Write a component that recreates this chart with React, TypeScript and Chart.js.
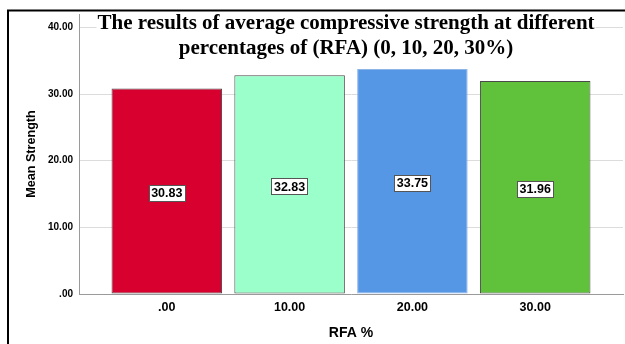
import React, { useEffect, useRef } from "react";
import { Chart, registerables } from "chart.js";

Chart.register(...registerables);

// RFA replacement levels and mean compressive strength
const categories = [".00", "10.00", "20.00", "30.00"];
const meanStrength = [30.83, 32.83, 33.75, 31.96];
const yTicks = [0, 10, 20, 30, 40];
const titleLines = [
  "The results of average compressive strength at different",
  "percentages of (RFA) (0, 10, 20, 30%)",
];
const barColors = ["#d7002f", "#9bffcb", "#5597e5", "#5fc23a"];
const barBorders = ["#4a4a4a", "#4a4a4a", "#8db5ea", "#4a4a4a"];

const fmtY = (v: number) => (v === 0 ? ".00" : v.toFixed(2));

// value boxes at the middle of each bar
const valueLabels = {
  id: "valueLabels",
  afterDatasetsDraw(chart: any) {
    const { ctx } = chart;
    const meta = chart.getDatasetMeta(0);
    const yScale = chart.scales.y;
    ctx.save();
    ctx.font = 'bold 12.5px "Liberation Sans", Arial, sans-serif';
    ctx.textAlign = "center";
    ctx.textBaseline = "middle";
    meta.data.forEach((bar: any, i: number) => {
      const v = meanStrength[i];
      const text = v.toFixed(2);
      const cx = bar.x;
      const cy = yScale.getPixelForValue(v / 2) + 1.5;
      const w = ctx.measureText(text).width + 5;
      const h = 16;
      const x0 = Math.round(cx - w / 2) + 0.5;
      const y0 = Math.round(cy - h / 2) + 0.5;
      ctx.fillStyle = "#ffffff";
      ctx.fillRect(x0, y0, Math.round(w), h);
      ctx.strokeStyle = "#555555";
      ctx.lineWidth = 1;
      ctx.strokeRect(x0, y0, Math.round(w), h);
      ctx.fillStyle = "#000000";
      ctx.fillText(text, cx, cy + 1);
    });
    ctx.restore();
  },
};

// two-line serif heading on a white backing, plus the outer frame
const headingAndFrame = {
  id: "headingAndFrame",
  afterDraw(chart: any) {
    const { ctx, chartArea } = chart;
    const cx = (chartArea.left + chartArea.right) / 2 - 5;
    const baselines = [29, 53.5];
    ctx.save();
    ctx.font = 'bold 21px "Liberation Serif", "Times New Roman", serif';
    ctx.textAlign = "center";
    ctx.textBaseline = "alphabetic";
    titleLines.forEach((line, i) => {
      const w = ctx.measureText(line).width;
      ctx.fillStyle = "#ffffff";
      ctx.fillRect(cx - w / 2 - 1, baselines[i] - 16, w + 2, 21);
    });
    ctx.fillStyle = "#000000";
    titleLines.forEach((line, i) => {
      ctx.fillText(line, cx, baselines[i]);
    });
    ctx.strokeStyle = "#000000";
    ctx.lineWidth = 2;
    ctx.beginPath();
    ctx.moveTo(8, 400);
    ctx.lineTo(8, 10.5);
    ctx.lineTo(700, 10.5);
    ctx.stroke();
    ctx.restore();
  },
};

export default function App() {
  const canvasRef = useRef<HTMLCanvasElement | null>(null);

  useEffect(() => {
    document.body.style.margin = "0";
    const canvas = canvasRef.current;
    if (!canvas) return;
    const chart = new Chart(canvas, {
      type: "bar",
      data: {
        datasets: [
          {
            data: meanStrength.map((v, i) => ({ x: i, y: v })),
            backgroundColor: barColors,
            borderColor: barBorders,
            borderWidth: 1,
            borderSkipped: false,
            barPercentage: 0.9,
            categoryPercentage: 1,
          },
        ],
      },
      options: {
        responsive: false,
        animation: false,
        devicePixelRatio: 1,
        layout: { padding: { left: 0, right: 2, top: 14, bottom: 0 } },
        plugins: {
          legend: { display: false },
          title: { display: false },
          tooltip: { enabled: false },
        },
        scales: {
          x: {
            type: "linear",
            offset: false,
            min: -0.715,
            max: 3.715,
            afterBuildTicks: (s: any) => {
              s.ticks = categories.map((_, i) => ({ value: i }));
            },
            afterFit: (s: any) => {
              s.height = 50;
            },
            grid: { offset: false, color: "rgba(0,0,0,0)", drawTicks: false },
            border: { display: true, color: "#9a9a9a", width: 1 },
            ticks: {
              padding: 6,
              color: "#000000",
              font: { family: '"Liberation Sans", Arial, sans-serif', size: 12.5, weight: "bold" },
              callback: (v: any) => categories[Number(v)] ?? "",
            },
            title: {
              display: true,
              text: "RFA %",
              color: "#000000",
              padding: { top: 0, bottom: 2 },
              font: { family: '"Liberation Sans", Arial, sans-serif', size: 14, weight: "bold" },
            },
          },
          y: {
            min: 0,
            max: 42,
            afterBuildTicks: (s: any) => {
              s.ticks = yTicks.map((v) => ({ value: v }));
            },
            afterFit: (s: any) => {
              s.width = 79;
            },
            grid: { color: "#dcdcdc", lineWidth: 1, drawTicks: false },
            border: { display: true, color: "#9a9a9a", width: 1 },
            ticks: {
              padding: 6,
              color: "#000000",
              font: { family: '"Liberation Sans", Arial, sans-serif', size: 10, weight: "bold" },
              callback: (v: any) => fmtY(Number(v)),
            },
            title: {
              display: true,
              text: "Mean Strength",
              color: "#000000",
              padding: { top: 23.5, bottom: 0 },
              font: { family: '"Liberation Sans", Arial, sans-serif', size: 12.6, weight: "bold" },
            },
          },
        },
      },
      plugins: [valueLabels, headingAndFrame],
    });
    return () => chart.destroy();
  }, []);

  return <canvas ref={canvasRef} width={625} height={344} style={{ display: "block" }} />;
}
